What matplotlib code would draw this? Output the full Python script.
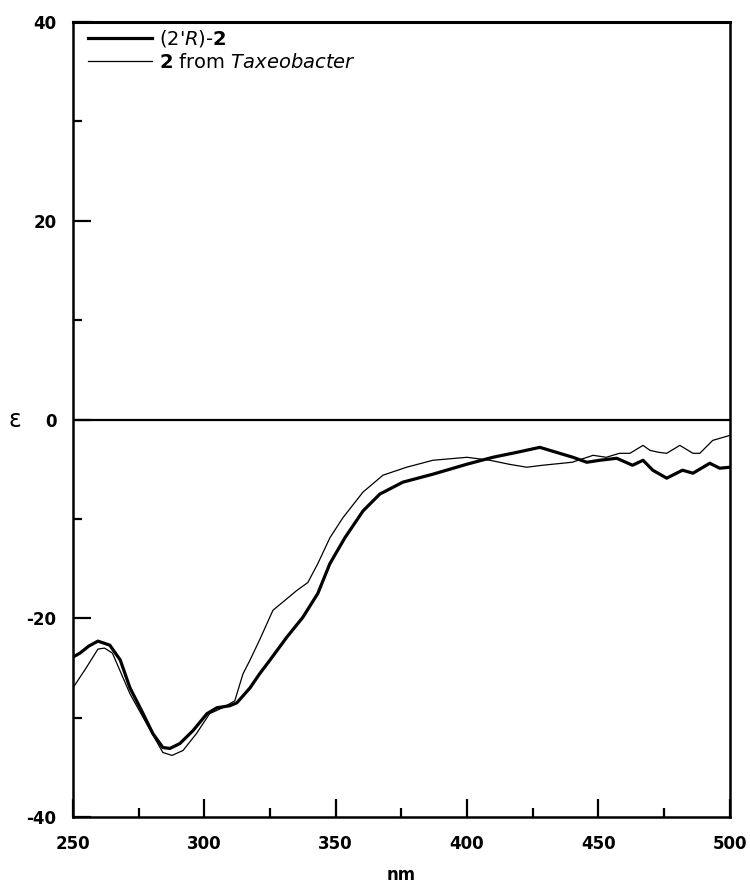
import matplotlib
matplotlib.use("Agg")
import matplotlib.pyplot as plt
from matplotlib.ticker import MultipleLocator

plt.rcParams['font.family'] = ['DejaVu Sans']
plt.rcParams['mathtext.fontset'] = 'dejavusans'
plt.rcParams['axes.unicode_minus'] = False

# (2'R)-2, thick line
nm_r = [250, 252.7, 256, 259.5, 264, 268, 271.7, 276.7, 280.4, 284.2, 286.9,
        290.7, 295.7, 301, 304.8, 309.7, 312.4, 317.4, 321, 325, 331.4, 337.5,
        343.2, 347.8, 353.5, 360.4, 366.8, 375.6, 387, 399.9, 409.8, 419,
        427.7, 434, 440.3, 445.6, 450.5, 457, 463, 467, 470.7, 476, 482, 486,
        492.4, 496.2, 500]
eps_r = [-23.9, -23.5, -22.8, -22.3, -22.7, -24.2, -27.0, -29.6, -31.6, -33.0,
         -33.1, -32.6, -31.3, -29.6, -29.0, -28.8, -28.5, -27.0, -25.6, -24.2,
         -21.9, -19.9, -17.5, -14.5, -11.9, -9.2, -7.5, -6.3, -5.5, -4.5, -3.8,
         -3.3, -2.8, -3.3, -3.8, -4.3, -4.1, -3.9, -4.6, -4.1, -5.1, -5.9,
         -5.1, -5.4, -4.4, -4.9, -4.8]

# 2 from Taxeobacter, thin line
nm_t = [250, 255, 259.5, 262, 265, 271.7, 278, 284.2, 287.7, 291.9, 297, 302,
        307, 311.6, 314.7, 317.4, 321, 326.1, 335.2, 339.4, 343.2, 347.8,
        352.7, 360.4, 368, 377, 387, 400, 408.7, 416, 422.7, 428.8, 440, 448,
        453, 458, 462, 467, 469.6, 473, 476, 481, 486, 488.6, 493.5, 500]
eps_t = [-27.0, -25.0, -23.1, -23.0, -23.5, -27.6, -30.6, -33.5, -33.8, -33.3,
         -31.6, -29.6, -29.0, -28.3, -25.6, -24.2, -22.2, -19.2, -17.2, -16.4,
         -14.5, -11.9, -9.9, -7.3, -5.6, -4.8, -4.1, -3.8, -4.1, -4.5, -4.8,
         -4.6, -4.3, -3.6, -3.8, -3.4, -3.4, -2.6, -3.1, -3.3, -3.4, -2.6,
         -3.4, -3.4, -2.1, -1.6]

fig = plt.figure(figsize=(7.5, 8.91), dpi=100)
ax = fig.add_axes([0.0973, 0.083, 0.8757, 0.8923])

ax.axhline(0, color='black', lw=1.6)
ax.plot(nm_r, eps_r, color='black', lw=2.3, label=r"(2'$\mathit{R}$)-$\mathbf{2}$")
ax.plot(nm_t, eps_t, color='black', lw=0.9, label=r"$\mathbf{2}$ from $\mathit{Taxeobacter}$")

ax.set_xlim(250, 500)
ax.set_ylim(-40, 40)
ax.xaxis.set_major_locator(MultipleLocator(50))
ax.xaxis.set_minor_locator(MultipleLocator(25))
ax.yaxis.set_major_locator(MultipleLocator(20))
ax.yaxis.set_minor_locator(MultipleLocator(10))
ax.tick_params(which='both', direction='in', top=False, right=False, width=1.6)
ax.tick_params(which='major', length=13)
ax.tick_params(which='minor', length=6.5)
ax.tick_params(axis='x', pad=13)
ax.tick_params(axis='y', pad=12)
for lab in ax.get_xticklabels() + ax.get_yticklabels():
    lab.set_fontweight('bold')
    lab.set_fontsize(12)
for s in ax.spines.values():
    s.set_linewidth(1.8)
ax.spines['top'].set_linewidth(2.2)

ax.set_xlabel('nm', fontsize=12, fontweight='bold', labelpad=9)
ax.set_ylabel('ε', rotation=0, fontsize=17, va='center', ha='center')
ax.yaxis.set_label_coords(-0.088, 0.5)

ax.legend(loc='upper left', bbox_to_anchor=(0.023, 0.992), frameon=False,
          fontsize=14, handlelength=3.3, handletextpad=0.35, labelspacing=0.2,
          borderpad=0, borderaxespad=0)

fig.savefig('out.png', dpi=100)
